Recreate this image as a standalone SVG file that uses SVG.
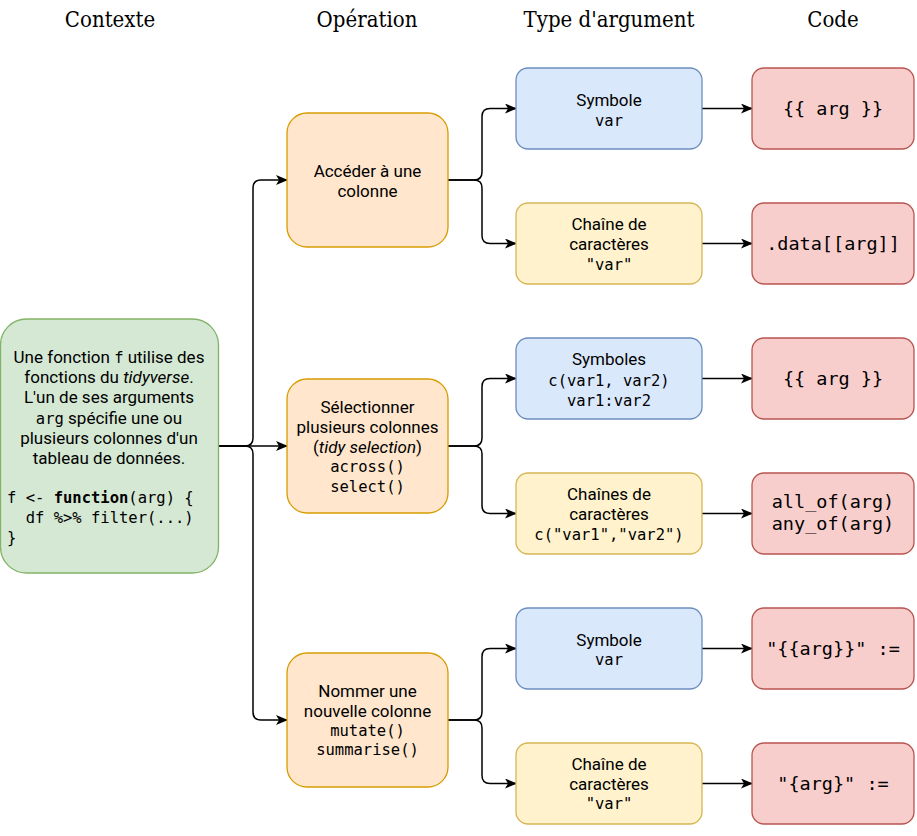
<svg xmlns="http://www.w3.org/2000/svg" width="917" height="836" viewBox="0 0 917 836">
<defs>
<style>
.t{font-family:Roboto,"Noto Sans",sans-serif;font-size:17px;fill:#000;text-anchor:middle}
.m{font-family:"DejaVu Sans Mono","Liberation Mono",monospace;font-size:15.5px}
.cm{font-family:"DejaVu Sans Mono","Liberation Mono",monospace;font-size:18.5px;fill:#000;text-anchor:middle}
.h{font-family:"DejaVu Serif Condensed","DejaVu Serif",serif;font-size:22px;fill:#000;text-anchor:middle}
.green{fill:#d5e8d4;stroke:#82b366;stroke-width:1.3}
.orange{fill:#ffe6cc;stroke:#d79b00;stroke-width:1.3}
.blue{fill:#dae8fc;stroke:#6c8ebf;stroke-width:1.3}
.yellow{fill:#fff2cc;stroke:#d6b656;stroke-width:1.3}
.red{fill:#f8cecc;stroke:#b85450;stroke-width:1.3}
.e{fill:none;stroke:#000;stroke-width:1.5;marker-end:url(#arr)}
</style>
<marker id="arr" viewBox="0 0 12 10" refX="11" refY="5" markerWidth="12" markerHeight="10" markerUnits="userSpaceOnUse" orient="auto">
<path d="M0,0 L12,5 L0,10 L3,5 Z" fill="#000"/>
</marker>
</defs>
<rect width="917" height="836" fill="#fff"/>

<g id="headings">
<text class="h" x="110" y="27">Contexte</text>
<text class="h" x="367" y="27">Opération</text>
<text class="h" x="609" y="27">Type d'argument</text>
<text class="h" x="833" y="27">Code</text>
</g>

<g id="connectors">
<path class="e" d="M218,446 H245 Q253,446 253,438 V188 Q253,180 261,180 H287"/>
<path class="e" d="M218,446 H287"/>
<path class="e" d="M218,446 H245 Q253,446 253,454 V712 Q253,720 261,720 H287"/>
<path class="e" d="M448,180 H474 Q482,180 482,172 V116.5 Q482,108.5 490,108.5 H516"/>
<path class="e" d="M448,180 H474 Q482,180 482,188 V235.5 Q482,243.5 490,243.5 H516"/>
<path class="e" d="M448,446 H474 Q482,446 482,438 V386.5 Q482,378.5 490,378.5 H516"/>
<path class="e" d="M448,446 H474 Q482,446 482,454 V505.5 Q482,513.5 490,513.5 H516"/>
<path class="e" d="M448,720 H474 Q482,720 482,712 V656.5 Q482,648.5 490,648.5 H516"/>
<path class="e" d="M448,720 H474 Q482,720 482,728 V775.5 Q482,783.5 490,783.5 H516"/>
<path class="e" d="M702,108.5 H752"/>
<path class="e" d="M702,243.5 H752"/>
<path class="e" d="M702,378.5 H752"/>
<path class="e" d="M702,513.5 H752"/>
<path class="e" d="M702,648.5 H752"/>
<path class="e" d="M702,783.5 H752"/>
</g>

<g id="contexte">
<rect class="green" x="0.5" y="319" width="218" height="254" rx="26"/>
<text class="t" x="109" y="363">Une fonction <tspan class="m">f</tspan> utilise des</text>
<text class="t" x="109" y="383">fonctions du <tspan font-style="italic">tidyverse</tspan>.</text>
<text class="t" x="109" y="403">L'un de ses arguments</text>
<text class="t" x="109" y="424"><tspan class="m">arg</tspan> spécifie une ou</text>
<text class="t" x="109" y="444">plusieurs colonnes d'un</text>
<text class="t" x="109" y="464">tableau de données.</text>
<text class="m" x="7" y="503" xml:space="preserve">f &lt;- <tspan font-weight="bold">function</tspan>(arg) {</text>
<text class="m" x="7" y="523" xml:space="preserve">  df %&gt;% filter(...)</text>
<text class="m" x="7" y="543">}</text>
</g>

<g id="op-acceder">
<rect class="orange" x="287" y="113" width="161" height="134" rx="20"/>
<text class="t" x="367.5" y="177">Accéder à une</text>
<text class="t" x="367.5" y="197">colonne</text>
</g>

<g id="op-selectionner">
<rect class="orange" x="287" y="379" width="161" height="134" rx="20"/>
<text class="t" x="367.5" y="413">Sélectionner</text>
<text class="t" x="367.5" y="433">plusieurs colonnes</text>
<text class="t" x="367.5" y="453">(<tspan font-style="italic">tidy selection</tspan>)</text>
<text class="t m" x="367.5" y="472">across()</text>
<text class="t m" x="367.5" y="492">select()</text>
</g>

<g id="op-nommer">
<rect class="orange" x="287" y="653" width="161" height="134" rx="20"/>
<text class="t" x="367.5" y="697">Nommer une</text>
<text class="t" x="367.5" y="717">nouvelle colonne</text>
<text class="t m" x="367.5" y="736">mutate()</text>
<text class="t m" x="367.5" y="755">summarise()</text>
</g>

<g id="type-symbole-1">
<rect class="blue" x="516" y="68" width="186" height="81" rx="12"/>
<text class="t" x="609" y="106">Symbole</text>
<text class="t m" x="609" y="126">var</text>
</g>

<g id="type-chaine-1">
<rect class="yellow" x="516" y="203" width="186" height="81" rx="12"/>
<text class="t" x="609" y="230">Chaîne de</text>
<text class="t" x="609" y="250">caractères</text>
<text class="t m" x="609" y="270">"var"</text>
</g>

<g id="type-symboles-2">
<rect class="blue" x="516" y="338" width="186" height="81" rx="12"/>
<text class="t" x="609" y="365">Symboles</text>
<text class="t m" x="609" y="386">c(var1, var2)</text>
<text class="t m" x="609" y="406">var1:var2</text>
</g>

<g id="type-chaines-2">
<rect class="yellow" x="516" y="473" width="186" height="81" rx="12"/>
<text class="t" x="609" y="500">Chaînes de</text>
<text class="t" x="609" y="520">caractères</text>
<text class="t m" x="609" y="540">c("var1","var2")</text>
</g>

<g id="type-symbole-3">
<rect class="blue" x="516" y="608" width="186" height="81" rx="12"/>
<text class="t" x="609" y="646">Symbole</text>
<text class="t m" x="609" y="665">var</text>
</g>

<g id="type-chaine-3">
<rect class="yellow" x="516" y="743" width="186" height="81" rx="12"/>
<text class="t" x="609" y="770">Chaîne de</text>
<text class="t" x="609" y="790">caractères</text>
<text class="t m" x="609" y="809">"var"</text>
</g>

<g id="code-1">
<rect class="red" x="752" y="68" width="162" height="81" rx="12"/>
<text class="cm" x="833" y="115">{{ arg }}</text>
</g>
<g id="code-2">
<rect class="red" x="752" y="203" width="162" height="81" rx="12"/>
<text class="cm" x="833" y="250">.data[[arg]]</text>
</g>
<g id="code-3">
<rect class="red" x="752" y="338" width="162" height="81" rx="12"/>
<text class="cm" x="833" y="385">{{ arg }}</text>
</g>
<g id="code-4">
<rect class="red" x="752" y="473" width="162" height="81" rx="12"/>
<text class="cm" x="833" y="508">all_of(arg)</text>
<text class="cm" x="833" y="530">any_of(arg)</text>
</g>
<g id="code-5">
<rect class="red" x="752" y="608" width="162" height="81" rx="12"/>
<text class="cm" x="833" y="655">"{{arg}}" :=</text>
</g>
<g id="code-6">
<rect class="red" x="752" y="743" width="162" height="81" rx="12"/>
<text class="cm" x="833" y="790">"{arg}" :=</text>
</g>
</svg>
